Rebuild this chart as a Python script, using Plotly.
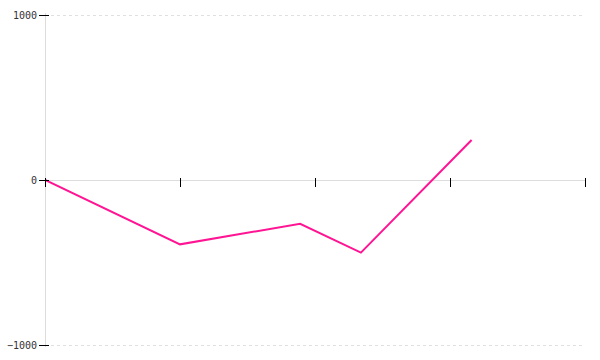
import plotly.graph_objects as go

x_vals = [0, 1, 1.89, 2.34, 3.16]
y_vals = [0, -390, -265, -440, 242]
x_ticks = [0, 1, 2, 3, 4]
y_ticks = [-1000, 0, 1000]
y_tick_labels = ["\u22121000", "0", "1000"]

fig = go.Figure()
fig.add_trace(go.Scatter(x=x_vals, y=y_vals, mode="lines",
                         line=dict(color="#ff1493", width=2)))

fig.update_layout(
    width=600, height=360,
    margin=dict(l=45, r=15, t=13, b=13, autoexpand=False),
    paper_bgcolor="white", plot_bgcolor="white",
    showlegend=False,
    font=dict(family="DejaVu Sans Mono", size=10, color="#333"),
    xaxis=dict(range=[0, 4], anchor="free", position=(347 - 177) / 334,
               showline=False, ticks="outside", ticklen=9, tickwidth=1,
               tickcolor="black", tickvals=x_ticks, showticklabels=False,
               showgrid=False, zeroline=True, zerolinecolor="#dddddd",
               zerolinewidth=1, fixedrange=True, automargin=False),
    yaxis=dict(range=[-1012.12, 1012.12], anchor="free", position=4 / 540,
               showline=False, ticks="outside", ticklen=10, tickwidth=1,
               tickcolor="black", tickvals=y_ticks, ticktext=y_tick_labels,
               showgrid=True, gridcolor="#e0e0e0", griddash="dot",
               gridwidth=1, zeroline=True, zerolinecolor="#dddddd",
               zerolinewidth=1, fixedrange=True, automargin=False),
)

fig.write_html("out.html", config={"displayModeBar": False})
